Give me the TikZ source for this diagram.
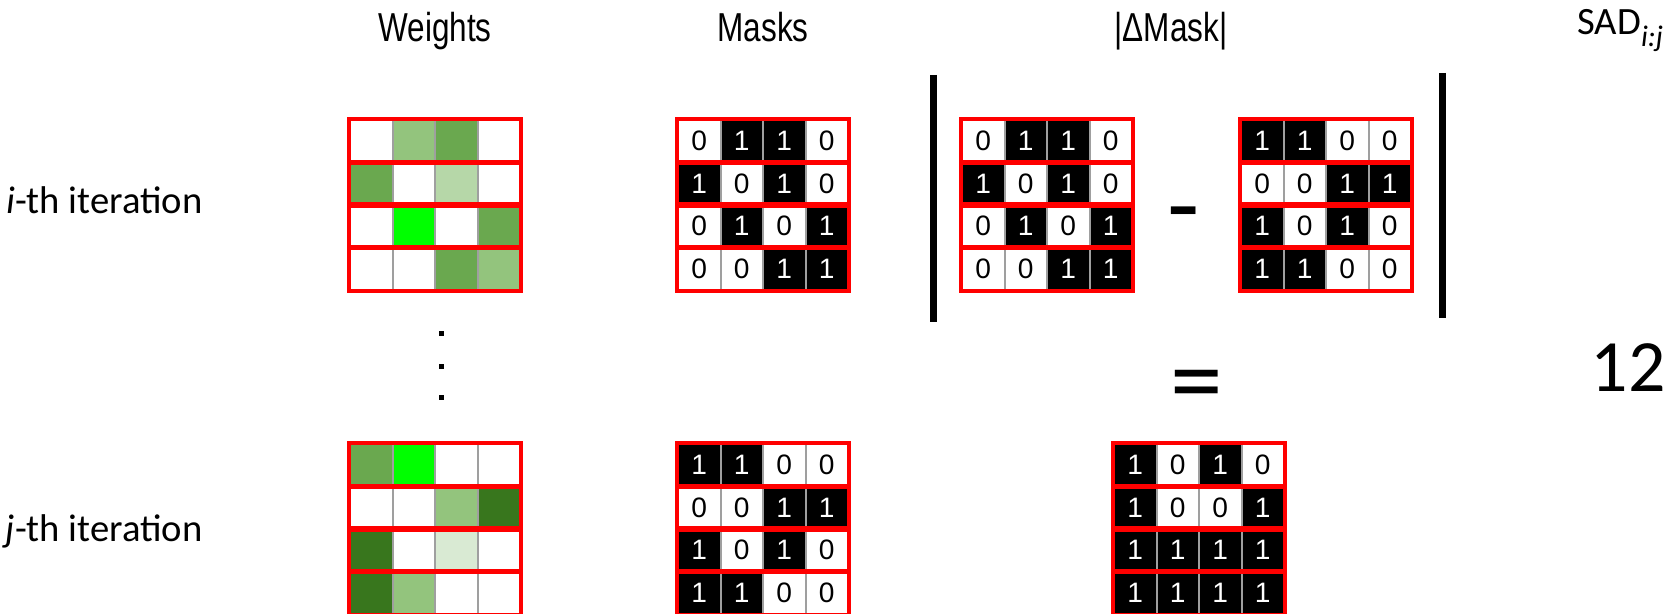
\documentclass[tikz,border=0pt]{standalone}
\usepackage{fontspec}
\setmainfont{Liberation Sans}
\newfontfamily\calibrifont{Carlito}
\newfontfamily\headfont{Liberation Sans}[FakeStretch=0.78]
\usetikzlibrary{positioning}

\definecolor{wlight}{HTML}{93C47D}
\definecolor{wmid}{HTML}{6AA84F}
\definecolor{wpale}{HTML}{B6D7A8}
\definecolor{wbright}{HTML}{00FF00}
\definecolor{wdark}{HTML}{38761D}
\definecolor{wfaint}{HTML}{D9EAD3}

% grid of weights: name, x, y, rows of colours
\newcommand{\wtgrid}[4]{
  \foreach \row [count=\r] in {#4} {
    \foreach \w [count=\c] in \row {
      \node [cell, fill=\w] (#1-\r-\c) at ({#2+(\c-0.5)*42.5}, {#3+(\r-0.5)*42.5}) {};
    }
  }
  \foreach \r in {1,...,4}
    \draw [rowbox] (#1-\r-1.north west) rectangle (#1-\r-4.south east);
}

% grid of mask bits: name, x, y, rows of bits
\newcommand{\bitgrid}[4]{
  \foreach \row [count=\r] in {#4} {
    \foreach \b [count=\c] in \row {
      \ifnum\b=1 \def\bfill{black}\def\btext{white}\else \def\bfill{white}\def\btext{black}\fi
      \node [cell, fill=\bfill, text=\btext] (#1-\r-\c) at ({#2+(\c-0.5)*42.5}, {#3+(\r-0.5)*42.5}) {\b};
    }
  }
  \foreach \r in {1,...,4}
    \draw [rowbox] (#1-\r-1.north west) rectangle (#1-\r-4.south east);
}

\begin{document}
\begin{tikzpicture}[x=0.02cm, y=-0.02cm]
\tikzstyle{cell} = [rectangle, draw=gray!75, line width=0.04cm, minimum width=0.85cm, minimum height=0.85cm, inner sep=0pt, font=\fontsize{16}{16}\selectfont]
\tikzstyle{rowbox} = [draw=red, line width=0.07cm]
\tikzstyle{header} = [inner sep=0pt, anchor=base, font=\headfont\fontsize{23}{23}\selectfont]
\tikzstyle{rowlabel} = [inner sep=0pt, anchor=base east, font=\calibrifont\fontsize{22}{22}\selectfont]
\tikzstyle{absbar} = [line width=0.14cm]
\tikzstyle{bigsign} = [inner sep=0pt, font=\calibrifont\fontsize{60}{60}\selectfont]
\tikzstyle{dot} = [rectangle, fill=black, inner sep=0pt, minimum size=0.1cm]

\useasboundingbox (0,0) rectangle (1672,614);

% column headers
\node [header] (hdrweights) at (435,42) {Weights};
\node [header] (hdrmasks) at (763,42) {Masks};
\node [header] (hdrdelta) at (1171,42) {|ΔMask|};
\node [header, anchor=base west, font=\calibrifont\fontsize{22}{22}\selectfont] (hdrsad) at (1577,35) {SAD\raisebox{-0.3em}{\fontsize{17}{17}\selectfont\itshape i:j}};

% row labels
\node [rowlabel] (lbli) at (203,214) {\itshape i\upshape-th iteration};
\node [rowlabel] (lblj) at (203,541) {\itshape j\upshape-th iteration};

% i-th iteration
\wtgrid{wi}{350}{120}{{white,wlight,wmid,white},{wmid,white,wpale,white},{white,wbright,white,wmid},{white,white,wmid,wlight}}
\bitgrid{mi}{678}{120}{{0,1,1,0},{1,0,1,0},{0,1,0,1},{0,0,1,1}}

% |delta mask|
\draw [absbar] (933,75) -- (933,322);
\bitgrid{da}{962}{120}{{0,1,1,0},{1,0,1,0},{0,1,0,1},{0,0,1,1}}
\node [bigsign] (minus) at (1184,224) {-};
\bitgrid{db}{1241}{120}{{1,1,0,0},{0,0,1,1},{1,0,1,0},{1,1,0,0}}
\draw [absbar] (1442,73) -- (1442,318);

% dots between iterations
\foreach \y [count=\i] in {334,367,398}
  \node [dot] (vdot\i) at (441,\y) {};

% result
\node [bigsign] (equals) at (1197,393) {=};
\node [inner sep=0pt, anchor=base, font=\calibrifont\fontsize{42}{42}\selectfont] (sadval) at (1628,392) {12};

% j-th iteration
\wtgrid{wj}{350}{444}{{wmid,wbright,white,white},{white,white,wlight,wdark},{wdark,white,wfaint,white},{wdark,wlight,white,white}}
\bitgrid{mj}{678}{444}{{1,1,0,0},{0,0,1,1},{1,0,1,0},{1,1,0,0}}
\bitgrid{res}{1114}{444}{{1,0,1,0},{1,0,0,1},{1,1,1,1},{1,1,1,1}}

\end{tikzpicture}
\end{document}
